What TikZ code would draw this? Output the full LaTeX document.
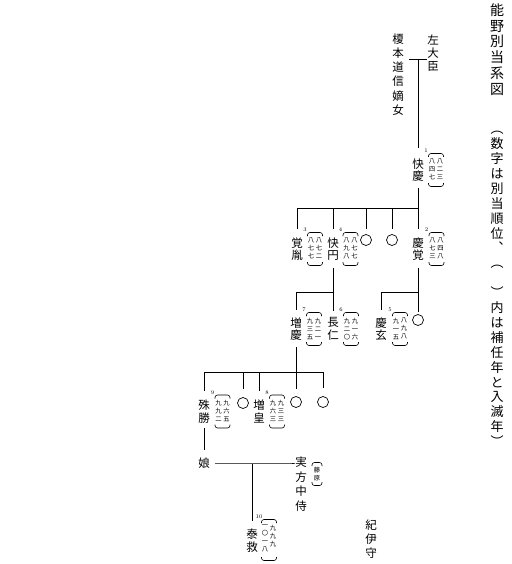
\documentclass[tikz,border=0pt]{standalone}
\usepackage{fontspec}
\newfontfamily\jp{Noto Sans CJK JP}
\tikzset{
  nm/.style={font=\jp\fontsize{11.5}{12.5}\selectfont, align=center, inner sep=0pt},
  nmw/.style={font=\jp\fontsize{11.5}{14.3}\selectfont, align=center, inner sep=0pt},
  ttl/.style={font=\jp\fontsize{14}{15.8}\selectfont, align=center, inner sep=0pt},
  nte/.style={font=\jp\fontsize{13}{14.9}\selectfont, align=center, inner sep=0pt},
  numcol/.style={font=\jp\fontsize{6.3}{8}\selectfont, align=center, inner sep=0pt},
  lbl/.style={font=\fontsize{5.5}{6}\selectfont, inner sep=0pt},
  ln/.style={line width=0.8pt, black},
  br/.style={line width=0.6pt, rounded corners=2.5pt},
  mk/.style={circle, draw, line width=0.7pt, minimum size=11pt, inner sep=0pt},
}
% #1 id, #2 ax, #3 cy, #4 rows, #5 right column, #6 left column, #7 label
\newcommand\anno[7]{%
  \pgfmathsetmacro\anTop{#3-#4*4}%
  \pgfmathsetmacro\anBot{#3+#4*4}%
  \node[numcol, anchor=north] (#1r) at ({#2+4},{\anTop+0.8}) {#5};
  \node[numcol, anchor=north] (#1l) at ({#2-4},{\anTop+0.8}) {#6};
  \draw[br] ({#2-7.5},{\anTop-1}) -- ({#2-7.5},{\anTop-4.5}) -- ({#2+7.5},{\anTop-4.5}) -- ({#2+7.5},{\anTop-1});
  \draw[br] ({#2-7.5},{\anBot+1}) -- ({#2-7.5},{\anBot+4.5}) -- ({#2+7.5},{\anBot+4.5}) -- ({#2+7.5},{\anBot+1});
  \node[lbl] (#1n) at ({#2-10},{\anTop-7}) {#7};
}
\begin{document}
\begin{tikzpicture}[x=1pt, y=-1pt]
\useasboundingbox (0,0) rectangle (511,564);

% title and note
\node[ttl] (title) at (497,49.5) {能\\野\\別\\当\\系\\図};
\node[nte] (note) at (497,289) {︵\\数\\字\\は\\別\\当\\順\\位\\︑\\︵\\\phantom{数}\\︶\\内\\は\\補\\任\\年\\と\\入\\滅\\年\\︶};

% generation 0
\node[font=\jp\fontsize{11.5}{13.3}\selectfont, align=center, inner sep=0pt] (sadaijin) at (433,53) {左\\大\\臣};
\node[nmw] (enomoto) at (398,74.5) {榎\\本\\道\\信\\嫡\\女};
\coordinate (m1) at (418,59);
\draw[ln] ([xshift=-9pt]m1) -- ([xshift=9pt]m1);

% 1
\node[nm] (kaikei) at (418,170) {快\\慶};
\anno{a1}{436}{170}{3}{八\\二\\三}{八\\四\\七}{1}
\draw[ln] (m1) -- ([yshift=10pt]kaikei.north);

% generation 2
\node[nm] (keikaku) at (418,249) {慶\\覚};
\node[nm] (kakuin) at (297,249) {覚\\胤};
\node[nm] (kaien) at (333,249) {快\\円};
\node[mk] (c1) at (366,240) {};
\node[mk] (c2) at (392,240) {};
\anno{a2}{436.5}{249}{3}{八\\四\\八}{八\\七\\三}{2}
\anno{a3}{315}{249}{3}{八\\七\\二}{八\\七\\七}{3}
\anno{a4}{350.5}{249}{3}{八\\七\\七}{八\\九\\八}{4}
\coordinate (b2) at (418,208);
\draw[ln] ([yshift=-6pt]kaikei.south) -- (b2);
\draw[ln] (b2 -| kakuin) -- (b2);
\draw[ln] (b2 -| kakuin) -- ([yshift=8pt]kakuin.north);
\draw[ln] (b2 -| kaien) -- ([yshift=8pt]kaien.north);
\draw[ln] (b2 -| c1) -- ([yshift=5pt]c1.north);
\draw[ln] (b2 -| c2) -- ([yshift=5pt]c2.north);
\draw[ln] (b2) -- ([yshift=8pt]keikaku.north);

% generation 3
\node[nm] (zoukei) at (296,329) {増\\慶};
\node[nm] (chounin) at (333,329) {長\\仁};
\node[nm] (keigen) at (381,329) {慶\\玄};
\node[mk] (c3) at (418,320) {};
\anno{a7}{314}{329}{3}{九\\二\\一}{九\\三\\五}{7}
\anno{a6}{351}{329}{3}{九\\一\\六}{九\\二\\〇}{6}
\anno{a5}{400}{329}{3}{八\\九\\八}{九\\一\\五}{5}
\coordinate (b3a) at (333,292);
\coordinate (b3b) at (418,292);
\draw[ln] ([yshift=-7pt]kaien.south) -- ([yshift=7pt]chounin.north);
\draw[ln] (b3a) -| ([yshift=7pt]zoukei.north);
\draw[ln] ([yshift=-7pt]keikaku.south) -- ([yshift=2pt]c3.north);
\draw[ln] (b3b) -| ([yshift=7pt]keigen.north);

% generation 4
\node[nm] (shushou) at (204,411.5) {殊\\勝};
\node[nm] (zoukou) at (259,411.5) {増\\皇};
\node[mk] (c4) at (243,403) {};
\node[mk] (c5) at (296,402) {};
\node[mk] (c6) at (323,402) {};
\anno{a9}{222.5}{411.5}{3}{九\\六\\五}{九\\九\\二}{9}
\anno{a8}{277}{411.5}{3}{九\\三\\三}{九\\六\\三}{8}
\coordinate (b4) at (296,372);
\draw[ln] ([yshift=-6pt]zoukei.south) -- ([yshift=7pt]c5.north);
\draw[ln] (b4 -| shushou) -- (b4 -| c6);
\draw[ln] (b4 -| shushou) -- ([yshift=9pt]shushou.north);
\draw[ln] (b4 -| c4) -- ([yshift=8pt]c4.north);
\draw[ln] (b4 -| zoukou) -- ([yshift=9pt]zoukou.north);
\draw[ln] (b4 -| c6) -- ([yshift=8pt]c6.north);

% generation 5
\node[nm] (musume) at (204,463) {娘};
\node[nmw, font=\jp\fontsize{11.5}{14.5}\selectfont] (sanekata) at (301,484) {実\\方\\中\\侍};
\node[numcol, font=\jp\fontsize{6.3}{8}\selectfont] (fujiwara) at (317,474) {藤\\原};
\draw[br] (312,466) -- (312,462.5) -- (322,462.5) -- (322,466);
\draw[br] (312,482) -- (312,485.5) -- (322,485.5) -- (322,482);
\draw[ln] ([yshift=-5pt]shushou.south) -- ([yshift=8pt]musume.north);
\coordinate (b5) at (252,464);
\draw[ln] ([xshift=5pt]musume.east) -- (musume.east -| sanekata.west) -- ([xshift=-3pt]sanekata.west |- musume.east);
\node[nm] (taikyu) at (252,540.5) {泰\\救};
\anno{a10}{269}{540}{4}{九\\九\\九}{一\\〇\\一\\八}{10}
\draw[ln] (b5) -- ([yshift=8pt]taikyu.north);

\node[font=\jp\fontsize{11.5}{14}\selectfont, align=center, inner sep=0pt] (kii) at (371,539) {紀\\伊\\守};
\end{tikzpicture}
\end{document}
